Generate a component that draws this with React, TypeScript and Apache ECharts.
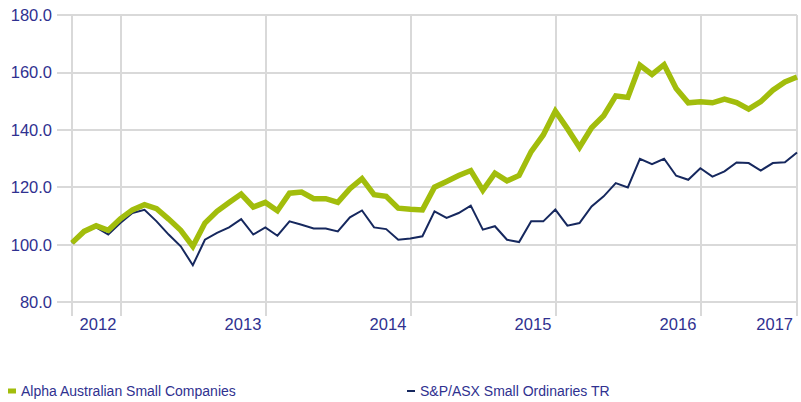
import React, { useEffect, useRef } from "react";
import * as echarts from "echarts";

const seriesNames = ["Alpha Australian Small Companies", "S&P/ASX Small Ordinaries TR"];

const alphaValues = [
  100.6, 104.6, 106.6, 105.0, 109.0, 112.1, 113.9, 112.5, 108.9, 105.0,
  99.4, 107.5, 111.6, 114.7, 117.6, 113.1, 114.7, 111.8, 117.9, 118.3,
  116.0, 116.0, 114.7, 119.5, 123.0, 117.4, 116.8, 112.7, 112.3, 112.1,
  120.0, 122.0, 124.1, 125.8, 118.9, 124.9, 122.2, 124.1, 132.4, 138.2,
  146.5, 140.4, 133.9, 140.7, 144.9, 151.8, 151.3, 162.5, 159.3, 162.7,
  154.4, 149.4, 149.8, 149.4, 150.7, 149.5, 147.2, 149.8, 153.8, 156.7,
  158.4,
];

const indexValues = [
  100.6, 104.4, 106.0, 103.5, 107.5, 111.0, 112.1, 108.1, 103.5, 99.4,
  92.8, 101.7, 104.1, 106.0, 108.9, 103.5, 106.0, 103.1, 108.1, 106.9,
  105.6, 105.6, 104.6, 109.5, 111.9, 106.0, 105.4, 101.7, 102.1, 102.9,
  111.6, 109.3, 111.0, 113.6, 105.2, 106.4, 101.7, 100.9, 108.1, 108.1,
  112.2, 106.6, 107.5, 113.3, 116.8, 121.4, 119.9, 129.9, 128.0, 129.9,
  124.0, 122.6, 126.6, 123.7, 125.5, 128.6, 128.4, 125.8, 128.4, 128.7,
  132.1,
];

const tickIndices = [0, 4, 16, 28, 40, 52, 60];
const tickLabels = ["", "2012", "2013", "2014", "2015", "2016", "2017"];

const categories = alphaValues.map((_, i) => "M" + i);

const TEXT = "#2f3190";
const GRID = "#d9d9d9";
const GREEN = "#a2bd0c";
const NAVY = "#16285e";
const FONT = "'Liberation Sans', Arial, sans-serif";

export default function App() {
  const ref = useRef<HTMLDivElement>(null);
  useEffect(() => {
    document.body.style.margin = "0";
    if (!ref.current) return;
    const chart = echarts.init(ref.current, null, { renderer: "svg" });
    const isTick = (i: number) => tickIndices.indexOf(i) >= 0;
    chart.setOption({
      animation: false,
      grid: { left: 72, right: 4, top: 15, height: 287, containLabel: false },
      xAxis: {
        type: "category",
        data: categories,
        boundaryGap: false,
        axisLine: { show: false },
        axisTick: {
          show: true,
          interval: (i: number) => isTick(i),
          length: 14,
          lineStyle: { color: GRID, width: 2 },
        },
        splitLine: {
          show: true,
          interval: (i: number) => isTick(i),
          lineStyle: { color: GRID, width: 2 },
        },
        axisLabel: {
          interval: (i: number) => isTick(i) && i !== 0,
          formatter: (_v: string, i: number) => {
            const k = tickIndices.indexOf(i);
            return k >= 0 ? tickLabels[k] : "";
          },
          align: "right",
          padding: [0, 4, 0, 0],
          margin: 13,
          color: TEXT,
          fontSize: 16.5,
          fontFamily: FONT,
        },
      },
      yAxis: {
        type: "value",
        min: 80,
        max: 180,
        interval: 20,
        axisLine: { show: false },
        axisTick: { show: true, length: 15, lineStyle: { color: GRID, width: 2 } },
        splitLine: { show: true, lineStyle: { color: GRID, width: 2 } },
        axisLabel: {
          formatter: (v: number) => v.toFixed(1),
          margin: 20,
          color: TEXT,
          fontSize: 16.5,
          fontFamily: FONT,
        },
      },
      legend: [
        {
          data: [seriesNames[0]],
          left: 8,
          top: 384,
          padding: 0,
          icon: "rect",
          itemWidth: 8,
          itemHeight: 5,
          selectedMode: false,
          textStyle: { color: TEXT, fontSize: 14, fontFamily: FONT },
        },
        {
          data: [seriesNames[1]],
          left: 407,
          top: 384,
          padding: 0,
          icon: "rect",
          itemWidth: 8,
          itemHeight: 2,
          selectedMode: false,
          textStyle: { color: TEXT, fontSize: 14, fontFamily: FONT },
        },
      ],
      series: [
        {
          name: seriesNames[1],
          type: "line",
          data: indexValues,
          symbol: "none",
          color: NAVY,
          lineStyle: { color: NAVY, width: 2, join: "miter" },
          z: 2,
        },
        {
          name: seriesNames[0],
          type: "line",
          data: alphaValues,
          symbol: "none",
          color: GREEN,
          lineStyle: { color: GREEN, width: 5.5, join: "miter" },
          z: 3,
        },
      ],
    });
    return () => chart.dispose();
  }, []);
  return <div ref={ref} style={{ width: 801, height: 402 }} />;
}
